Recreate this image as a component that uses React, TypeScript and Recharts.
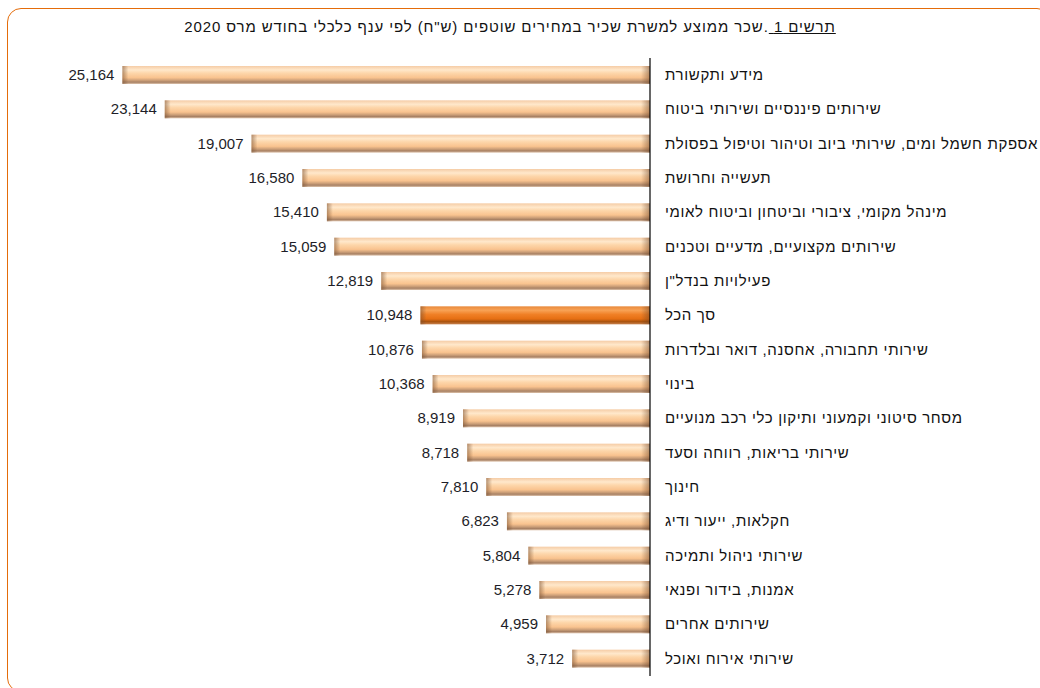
import React from 'react';
import { Bar, BarChart, LabelList, XAxis, YAxis } from 'recharts';

// ענפים (מלמעלה למטה)
const branches = [
  'מידע ותקשורת',
  'שירותים פיננסיים ושירותי ביטוח',
  'אספקת חשמל ומים, שירותי ביוב וטיהור וטיפול בפסולת',
  'תעשייה וחרושת',
  'מינהל מקומי, ציבורי וביטחון וביטוח לאומי',
  'שירותים מקצועיים, מדעיים וטכנים',
  'פעילויות בנדל"ן',
  'סך הכל',
  'שירותי תחבורה, אחסנה, דואר ובלדרות',
  'בינוי',
  'מסחר סיטוני וקמעוני ותיקון כלי רכב מנועיים',
  'שירותי בריאות, רווחה וסעד',
  'חינוך',
  'חקלאות, ייעור ודיג',
  'שירותי ניהול ותמיכה',
  'אמנות, בידור ופנאי',
  'שירותים אחרים',
  'שירותי אירוח ואוכל',
];

// שכר ממוצע בש"ח, מרס 2020
const wages = [
  25164, 23144, 19007, 16580, 15410, 15059, 12819, 10948, 10876, 10368, 8919, 8718, 7810, 6823, 5804,
  5278, 4959, 3712,
];

const TOTAL = 'סך הכל';

const data = branches.map((name, i) => ({ name, wage: wages[i] }));

const FONT = '"Liberation Sans", Arial, sans-serif';

const CylinderBar = (props: any) => {
  const { x, y, width, height, payload } = props;
  const left = Math.min(x, x + width);
  const w = Math.abs(width);
  const total = payload && payload.name === TOTAL;
  const fill = total ? 'url(#gradOrange)' : 'url(#gradPeach)';
  return (
    <g>
      <rect x={left} y={y} width={w} height={height} fill={fill} />
      <rect x={left} y={y} width={Math.min(6, w)} height={height} fill="url(#capLeft)" />
      <rect x={left + w - 9} y={y} width={9} height={height} fill="url(#capRight)" />
    </g>
  );
};

const ValueLabel = (props: any) => {
  const { x, y, width, height, value } = props;
  const left = Math.min(x, x + width);
  return (
    <text
      x={left - 8}
      y={y + height / 2 + 1}
      textAnchor="end"
      dominantBaseline="middle"
      fontSize={15}
      fontFamily={FONT}
      fill="#1e1e28"
    >
      {Number(value).toLocaleString('en-US')}
    </text>
  );
};

const BranchTick = (props: any) => {
  const { x, y, payload } = props;
  return (
    <text
      x={x + 7}
      y={y + 1}
      textAnchor="start"
      dominantBaseline="middle"
      fontSize={15}
      letterSpacing={0.65}
      fontFamily={FONT}
      fill="#111"
    >
      {payload.value}
    </text>
  );
};

export default function App() {
  return (
    <div style={{ position: 'absolute', left: 0, top: 0, width: 1040, height: 688, overflow: 'hidden', background: '#fff' }}>
      <div
        style={{
          position: 'absolute',
          left: 7,
          top: 8,
          width: 1044,
          height: 684,
          border: '1.5px solid #e46c0a',
          borderRadius: 14,
          boxSizing: 'border-box',
        }}
      />
      <div
        dir="rtl"
        style={{
          position: 'absolute',
          left: 0,
          top: 18,
          width: 1020,
          textAlign: 'center',
          fontFamily: FONT,
          fontSize: 15,
          letterSpacing: 0.9,
          lineHeight: '18px',
          color: '#111',
        }}
      >
        <u>תרשים 1 </u>.שכר ממוצע למשרת שכיר במחירים שוטפים (ש"ח) לפי ענף כלכלי בחודש מרס 2020
      </div>
      <div style={{ position: 'absolute', left: 0, top: 0 }}>
        <BarChart
          width={1040}
          height={688}
          data={data}
          layout="vertical"
          margin={{ top: 58, right: 0, bottom: 12, left: 21 }}
          barSize={18}
        >
          <defs>
            <linearGradient id="gradPeach" x1="0" y1="0" x2="0" y2="1">
              <stop offset="0%" stopColor="#f5cca6" />
              <stop offset="22%" stopColor="#ffe8cb" />
              <stop offset="40%" stopColor="#fdd6aa" />
              <stop offset="65%" stopColor="#f9c38f" />
              <stop offset="80%" stopColor="#cc9f78" />
              <stop offset="90%" stopColor="#a88164" />
              <stop offset="100%" stopColor="#dec4ad" />
            </linearGradient>
            <linearGradient id="gradOrange" x1="0" y1="0" x2="0" y2="1">
              <stop offset="0%" stopColor="#e98a3c" />
              <stop offset="22%" stopColor="#f8a255" />
              <stop offset="45%" stopColor="#f08026" />
              <stop offset="70%" stopColor="#e66f13" />
              <stop offset="85%" stopColor="#a9530f" />
              <stop offset="100%" stopColor="#c9824e" />
            </linearGradient>
            <linearGradient id="capLeft" x1="0" y1="0" x2="1" y2="0">
              <stop offset="0%" stopColor="#7a5030" stopOpacity={0.55} />
              <stop offset="100%" stopColor="#7a5030" stopOpacity={0} />
            </linearGradient>
            <linearGradient id="capRight" x1="0" y1="0" x2="1" y2="0">
              <stop offset="0%" stopColor="#6b4020" stopOpacity={0} />
              <stop offset="100%" stopColor="#6b4020" stopOpacity={0.5} />
            </linearGradient>
          </defs>
          <XAxis type="number" domain={[0, 30000]} reversed hide />
          <YAxis
            type="category"
            dataKey="name"
            orientation="right"
            width={390}
            axisLine={{ stroke: '#000', strokeWidth: 1.2 }}
            tickLine={false}
            tick={<BranchTick />}
            interval={0}
          />
          <Bar dataKey="wage" shape={<CylinderBar />} isAnimationActive={false}>
            <LabelList dataKey="wage" content={<ValueLabel />} />
          </Bar>
        </BarChart>
      </div>
    </div>
  );
}
